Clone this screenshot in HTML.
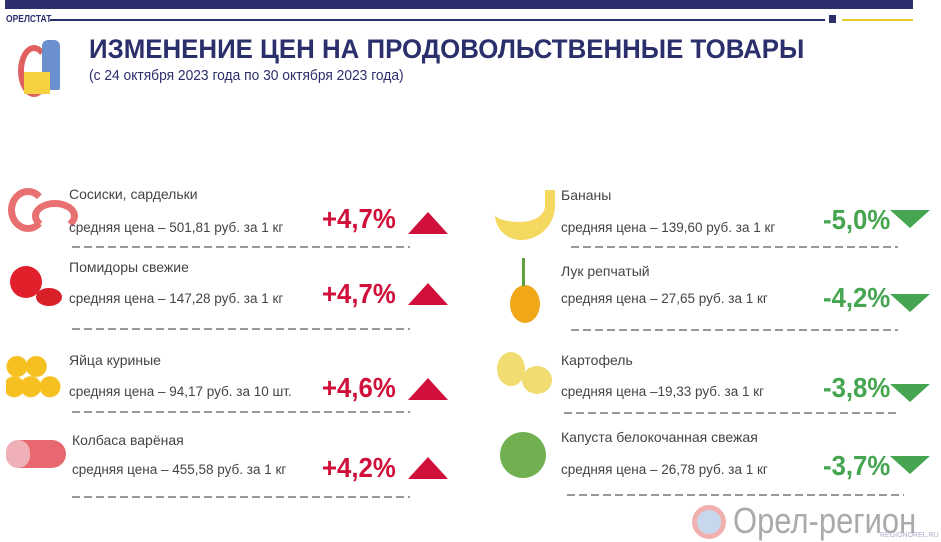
<!DOCTYPE html>
<html><head><meta charset="utf-8"><style>
body{margin:0;width:941px;height:541px;background:#fff;position:relative;overflow:hidden;font-family:"Liberation Sans","DejaVu Sans",sans-serif;}
.a{position:absolute;white-space:nowrap;}
.n{font-size:14px;color:#444;}
.p{font-size:13.5px;color:#444;}
.r{font-size:28px;font-weight:bold;color:#d0103a;transform:scaleX(0.92);transform-origin:left;}
.g{font-size:28px;font-weight:bold;color:#46a550;transform:scaleX(0.92);transform-origin:left;}
.up{position:absolute;width:0;height:0;border-left:20px solid transparent;border-right:20px solid transparent;border-bottom:22px solid #d0103a;}
.dn{position:absolute;width:0;height:0;border-left:20px solid transparent;border-right:20px solid transparent;border-top:18px solid #46a550;}
.d{position:absolute;height:1.5px;background:repeating-linear-gradient(90deg,#999 0 8px,transparent 8px 12px);}
</style></head><body>
<div class="a" style="left:5px;top:0;width:908px;height:9px;background:#2b2f6b"></div>
<div class="a" style="left:6px;top:14px;font-size:10px;font-weight:bold;color:#2b2f6b;transform:scaleX(0.85);transform-origin:left">ОРЕЛСТАТ</div>
<div class="a" style="left:50px;top:19px;width:775px;height:2px;background:#2b2f6b"></div>
<div class="a" style="left:829px;top:15px;width:7px;height:8px;background:#2b2f6b"></div>
<div class="a" style="left:842px;top:19px;width:71px;height:2px;background:#e8c830"></div>
<div class="a" style="left:18px;top:45px;width:20px;height:40px;border:6px solid #e06060;border-radius:50%;border-right-color:transparent"></div>
<div class="a" style="left:42px;top:40px;width:18px;height:50px;background:#6a90d0;border-radius:6px 6px 2px 2px"></div>
<div class="a" style="left:24px;top:72px;width:26px;height:22px;background:#f5d040"></div>
<div class="a" style="left:89px;top:34px;font-size:27px;font-weight:bold;color:#2b2f6b;transform:scaleX(0.957);transform-origin:left">ИЗМЕНЕНИЕ ЦЕН НА ПРОДОВОЛЬСТВЕННЫЕ ТОВАРЫ</div>
<div class="a" style="left:89px;top:67px;font-size:15px;color:#2b2f6b;transform:scaleX(0.92);transform-origin:left">(с 24 октября 2023 года по 30 октября 2023 года)</div>

<div class="a" style="left:8px;top:188px;width:26px;height:30px;border:7px solid #e87070;border-radius:50%;border-right-color:transparent"></div>
<div class="a" style="left:32px;top:200px;width:32px;height:18px;border:7px solid #e87070;border-radius:50%;border-bottom-color:transparent"></div>
<div class="a" style="left:10px;top:266px;width:32px;height:32px;background:#e0202a;border-radius:50%"></div>
<div class="a" style="left:36px;top:288px;width:26px;height:18px;background:#d82028;border-radius:50%"></div>
<div class="a" style="left:6px;top:353px;width:55px;height:45px;background:radial-gradient(circle at 20% 30%,#f5c020 10px,transparent 11px),radial-gradient(circle at 55% 30%,#f5c020 10px,transparent 11px),radial-gradient(circle at 15% 75%,#f5c020 10px,transparent 11px),radial-gradient(circle at 45% 75%,#f5c020 10px,transparent 11px),radial-gradient(circle at 80% 75%,#f5c020 10px,transparent 11px)"></div>
<div class="a" style="left:6px;top:440px;width:60px;height:28px;background:#e86870;border-radius:14px"></div>
<div class="a" style="left:6px;top:440px;width:24px;height:28px;background:#f0b0b8;border-radius:12px"></div>

<div class="a n" style="left:69px;top:186px">Сосиски, сардельки</div>
<div class="a p" style="left:69px;top:220px">средняя цена – 501,81 руб. за 1 кг</div>
<div class="a r" style="left:322px;top:203px">+4,7%</div><div class="up" style="left:408px;top:212px"></div>
<div class="d" style="left:72px;top:246px;width:338px"></div>

<div class="a n" style="left:69px;top:259px">Помидоры свежие</div>
<div class="a p" style="left:69px;top:291px">средняя цена – 147,28 руб. за 1 кг</div>
<div class="a r" style="left:322px;top:278px">+4,7%</div><div class="up" style="left:408px;top:283px"></div>
<div class="d" style="left:72px;top:328px;width:338px"></div>

<div class="a n" style="left:69px;top:352px">Яйца куриные</div>
<div class="a p" style="left:69px;top:384px">средняя цена – 94,17 руб. за 10 шт.</div>
<div class="a r" style="left:322px;top:372px">+4,6%</div><div class="up" style="left:408px;top:378px"></div>
<div class="d" style="left:72px;top:411px;width:338px"></div>

<div class="a n" style="left:72px;top:432px">Колбаса варёная</div>
<div class="a p" style="left:72px;top:462px">средняя цена – 455,58 руб. за 1 кг</div>
<div class="a r" style="left:322px;top:452px">+4,2%</div><div class="up" style="left:408px;top:457px"></div>
<div class="d" style="left:72px;top:496px;width:338px"></div>

<div class="a" style="left:495px;top:190px;width:60px;height:50px;border-radius:0 0 40px 30px;border-bottom:18px solid #f5d860;border-right:10px solid #f5d860;box-sizing:border-box"></div>
<div class="a" style="left:510px;top:285px;width:30px;height:38px;background:#f0a818;border-radius:50%"></div>
<div class="a" style="left:522px;top:258px;width:3px;height:28px;background:#60a040"></div>
<div class="a" style="left:497px;top:352px;width:28px;height:34px;background:#f0dc70;border-radius:50%"></div>
<div class="a" style="left:522px;top:366px;width:30px;height:28px;background:#f0dc70;border-radius:50%"></div>
<div class="a" style="left:500px;top:432px;width:46px;height:46px;background:#70b050;border-radius:50%"></div>

<div class="a n" style="left:561px;top:187px">Бананы</div>
<div class="a p" style="left:561px;top:220px">средняя цена – 139,60 руб. за 1 кг</div>
<div class="a g" style="left:823px;top:204px">-5,0%</div><div class="dn" style="left:890px;top:210px"></div>
<div class="d" style="left:571px;top:246px;width:327px"></div>

<div class="a n" style="left:561px;top:263px">Лук репчатый</div>
<div class="a p" style="left:561px;top:291px">средняя цена –  27,65 руб. за  1 кг</div>
<div class="a g" style="left:823px;top:282px">-4,2%</div><div class="dn" style="left:890px;top:294px"></div>
<div class="d" style="left:571px;top:329px;width:327px"></div>

<div class="a n" style="left:561px;top:352px">Картофель</div>
<div class="a p" style="left:561px;top:384px">средняя цена –19,33 руб. за 1 кг</div>
<div class="a g" style="left:823px;top:372px">-3,8%</div><div class="dn" style="left:890px;top:384px"></div>
<div class="d" style="left:564px;top:412px;width:335px"></div>

<div class="a n" style="left:561px;top:429px">Капуста белокочанная свежая</div>
<div class="a p" style="left:561px;top:462px">средняя цена – 26,78 руб. за 1 кг</div>
<div class="a g" style="left:823px;top:450px">-3,7%</div><div class="dn" style="left:890px;top:456px"></div>
<div class="d" style="left:567px;top:494px;width:337px"></div>

<div class="a" style="left:692px;top:505px;width:24px;height:24px;border:5px solid #f0b0b0;border-radius:50%;background:#c8d8ec"></div>
<div class="a" style="left:733px;top:500px;font-size:36px;color:#aaa;transform:scaleX(0.86);transform-origin:left">Орел-регион</div>
<div class="a" style="left:880px;top:532px;font-size:7px;color:#aac">REGIONOREL.RU</div>
</body></html>
